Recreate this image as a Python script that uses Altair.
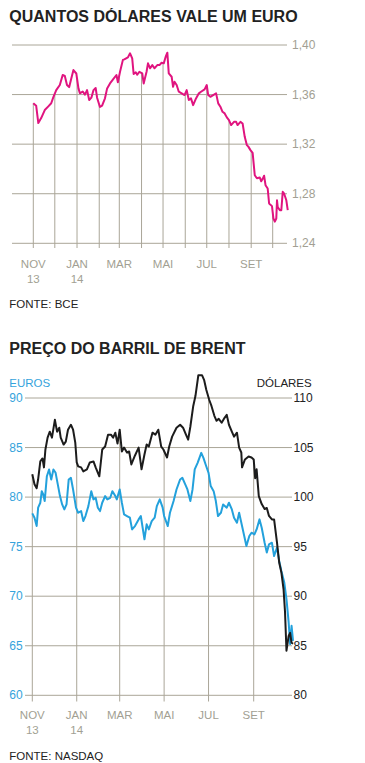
import altair as alt
import numpy as np
import pandas as pd

# ---------------- data: EUR/USD (BCE) ----------------
eur_dates = [
    "2013-11-01", "2013-11-05", "2013-11-08", "2013-11-12", "2013-11-17", "2013-11-22",
    "2013-11-26", "2013-11-29", "2013-12-03", "2013-12-08", "2013-12-12", "2013-12-15",
    "2013-12-18", "2013-12-21", "2013-12-24", "2013-12-27", "2013-12-31", "2014-01-03",
    "2014-01-05", "2014-01-09", "2014-01-12", "2014-01-15", "2014-01-18", "2014-01-21",
    "2014-01-24", "2014-01-27", "2014-01-29", "2014-02-02", "2014-02-05", "2014-02-09",
    "2014-02-12", "2014-02-16", "2014-02-20", "2014-02-25", "2014-02-27", "2014-03-02",
    "2014-03-06", "2014-03-08", "2014-03-13", "2014-03-16", "2014-03-19", "2014-03-21",
    "2014-03-24", "2014-03-26", "2014-03-29", "2014-04-02", "2014-04-04", "2014-04-08",
    "2014-04-10", "2014-04-13", "2014-04-16", "2014-04-19", "2014-04-23", "2014-04-26",
    "2014-04-29", "2014-05-02", "2014-05-05", "2014-05-07", "2014-05-09", "2014-05-13",
    "2014-05-15", "2014-05-17", "2014-05-20", "2014-05-23", "2014-05-27", "2014-05-31",
    "2014-06-03", "2014-06-06", "2014-06-09", "2014-06-12", "2014-06-16", "2014-06-20",
    "2014-06-23", "2014-06-28", "2014-07-01", "2014-07-03", "2014-07-06", "2014-07-10",
    "2014-07-14", "2014-07-17", "2014-07-20", "2014-07-23", "2014-07-26", "2014-07-29",
    "2014-08-01", "2014-08-04", "2014-08-08", "2014-08-11", "2014-08-13", "2014-08-17",
    "2014-08-20", "2014-08-23", "2014-08-26", "2014-08-28", "2014-08-31", "2014-09-03",
    "2014-09-06", "2014-09-09", "2014-09-13", "2014-09-15", "2014-09-17", "2014-09-19",
    "2014-09-21", "2014-09-24", "2014-09-26", "2014-09-30", "2014-10-02", "2014-10-04",
    "2014-10-06", "2014-10-07", "2014-10-08", "2014-10-11", "2014-10-13", "2014-10-15",
    "2014-10-17", "2014-10-20", "2014-10-22",
]
eur_values = [
    1.353, 1.351, 1.337, 1.341, 1.3475, 1.3505,
    1.353, 1.358, 1.3636, 1.3677, 1.3758, 1.375,
    1.3677, 1.366, 1.373, 1.3798, 1.377, 1.365,
    1.361, 1.3625, 1.360, 1.3636, 1.3556, 1.3575,
    1.3636, 1.3653, 1.3575, 1.350, 1.351, 1.357,
    1.365, 1.369, 1.372, 1.3758, 1.370, 1.3784,
    1.388, 1.3884, 1.390, 1.3933, 1.3892, 1.3766,
    1.378, 1.376, 1.3784, 1.3771, 1.369, 1.3784,
    1.3852, 1.3812, 1.3838, 1.3812, 1.3838, 1.3838,
    1.3857, 1.3852, 1.3911, 1.3938, 1.3771, 1.3744,
    1.3663, 1.3704, 1.3677, 1.3623, 1.361, 1.3596,
    1.3636, 1.3556, 1.3569, 1.3515, 1.3569, 1.361,
    1.3623, 1.3642, 1.3677, 1.3596, 1.3582, 1.3596,
    1.361, 1.3529, 1.3502, 1.3461, 1.3448, 1.3416,
    1.3394, 1.3354, 1.338, 1.338, 1.3354, 1.338,
    1.3367, 1.3259, 1.3192, 1.318, 1.3152, 1.313,
    1.2949, 1.2925, 1.2931, 1.290, 1.292, 1.2945,
    1.2869, 1.2842, 1.2721, 1.270, 1.260, 1.2575,
    1.260, 1.2747, 1.2693, 1.2667, 1.2667, 1.2815,
    1.280, 1.2747, 1.2667,
]

# ---------------- data: Brent (NASDAQ) ----------------
usd_dates = [
    "2013-11-01", "2013-11-04", "2013-11-07", "2013-11-09", "2013-11-12", "2013-11-15",
    "2013-11-17", "2013-11-19", "2013-11-22", "2013-11-25", "2013-11-28", "2013-12-02",
    "2013-12-05", "2013-12-08", "2013-12-10", "2013-12-14", "2013-12-17", "2013-12-20",
    "2013-12-24", "2013-12-27", "2013-12-30", "2014-01-01", "2014-01-03", "2014-01-07",
    "2014-01-10", "2014-01-15", "2014-01-19", "2014-01-24", "2014-01-27", "2014-02-01",
    "2014-02-05", "2014-02-09", "2014-02-13", "2014-02-17", "2014-02-20", "2014-02-23",
    "2014-02-26", "2014-03-01", "2014-03-04", "2014-03-07", "2014-03-11", "2014-03-14",
    "2014-03-17", "2014-03-22", "2014-03-27", "2014-03-31", "2014-04-04", "2014-04-07",
    "2014-04-10", "2014-04-15", "2014-04-19", "2014-04-23", "2014-04-27", "2014-04-30",
    "2014-05-05", "2014-05-08", "2014-05-12", "2014-05-18", "2014-05-23", "2014-05-27",
    "2014-05-31", "2014-06-03", "2014-06-06", "2014-06-10", "2014-06-13", "2014-06-17",
    "2014-06-22", "2014-06-25", "2014-06-28", "2014-07-02", "2014-07-05", "2014-07-09",
    "2014-07-12", "2014-07-15", "2014-07-19", "2014-07-23", "2014-07-26", "2014-07-29",
    "2014-08-02", "2014-08-05", "2014-08-09", "2014-08-12", "2014-08-15", "2014-08-16",
    "2014-08-20", "2014-08-25", "2014-08-29", "2014-09-01", "2014-09-03", "2014-09-05",
    "2014-09-08", "2014-09-12", "2014-09-16", "2014-09-19", "2014-09-22", "2014-09-26",
    "2014-09-29", "2014-10-03", "2014-10-06", "2014-10-09", "2014-10-12", "2014-10-14",
    "2014-10-16", "2014-10-19", "2014-10-21", "2014-10-23", "2014-10-25",
]
usd_values = [
    102.3, 101.3, 100.9, 101.8, 103.6, 103.9,
    103.0, 104.8, 106.0, 106.6, 106.0, 107.8,
    106.6, 107.0, 106.0, 105.3, 105.6, 106.8,
    107.3, 106.8, 105.5, 103.5, 103.1, 103.0,
    102.6, 102.8, 103.5, 103.6, 103.0, 102.1,
    104.8, 105.1, 106.3, 106.3, 106.0, 106.5,
    105.4, 106.8, 104.6, 105.0, 104.5, 104.6,
    103.3, 104.2, 105.0, 102.8, 104.3, 105.3,
    105.1, 106.5, 106.3, 106.8, 105.1, 104.8,
    104.0, 105.1, 106.1, 107.0, 107.3, 107.0,
    106.3, 105.8, 107.1, 109.2, 110.2, 112.3,
    112.3, 111.8, 110.8, 109.8, 109.2, 108.2,
    107.7, 107.9, 107.5, 108.0, 108.3, 107.3,
    106.6, 106.1, 106.5, 105.0, 104.5, 103.0,
    103.8, 104.1, 104.0, 103.8, 101.9, 102.8,
    100.1, 99.3, 98.8, 98.9, 98.1, 97.75,
    97.75, 95.4, 93.4, 92.4, 90.7, 88.4,
    84.5, 86.0, 86.3, 85.3, 85.2,
]

brl_eur_dates = [
    "2013-11-01", "2013-11-04", "2013-11-07", "2013-11-09", "2013-11-12", "2013-11-14",
    "2013-11-16", "2013-11-18", "2013-11-21", "2013-11-24", "2013-11-27", "2013-11-30",
    "2013-12-03", "2013-12-06", "2013-12-09", "2013-12-12", "2013-12-15", "2013-12-18",
    "2013-12-21", "2013-12-24", "2013-12-27", "2013-12-31", "2014-01-03", "2014-01-07",
    "2014-01-10", "2014-01-13", "2014-01-17", "2014-01-21", "2014-01-24", "2014-01-27",
    "2014-01-30", "2014-02-02", "2014-02-05", "2014-02-09", "2014-02-12", "2014-02-16",
    "2014-02-19", "2014-02-23", "2014-02-25", "2014-03-01", "2014-03-04", "2014-03-07",
    "2014-03-11", "2014-03-15", "2014-03-18", "2014-03-22", "2014-03-27", "2014-03-30",
    "2014-04-04", "2014-04-07", "2014-04-10", "2014-04-14", "2014-04-18", "2014-04-21",
    "2014-04-25", "2014-04-29", "2014-05-01", "2014-05-06", "2014-05-09", "2014-05-14",
    "2014-05-18", "2014-05-23", "2014-05-26", "2014-05-30", "2014-06-02", "2014-06-06",
    "2014-06-09", "2014-06-12", "2014-06-16", "2014-06-21", "2014-06-24", "2014-06-27",
    "2014-07-01", "2014-07-04", "2014-07-08", "2014-07-11", "2014-07-14", "2014-07-18",
    "2014-07-21", "2014-07-26", "2014-07-29", "2014-08-02", "2014-08-05", "2014-08-09",
    "2014-08-12", "2014-08-16", "2014-08-19", "2014-08-22", "2014-08-26", "2014-08-29",
    "2014-09-02", "2014-09-05", "2014-09-09", "2014-09-12", "2014-09-16", "2014-09-19",
    "2014-09-22", "2014-09-26", "2014-09-29", "2014-10-03", "2014-10-06", "2014-10-09",
    "2014-10-13", "2014-10-16", "2014-10-19", "2014-10-21", "2014-10-23", "2014-10-25",
]
brl_eur_values = [
    78.36, 77.92, 77.08, 78.93, 79.43, 80.6,
    80.27, 79.6, 82.11, 82.79, 81.78, 82.79,
    82.45, 81.28, 80.1, 79.26, 78.76, 79.26,
    81.78, 81.95, 80.77, 78.93, 78.42, 78.59,
    77.58, 78.09, 79.09, 80.6, 79.77, 79.93,
    78.93, 78.59, 79.43, 80.1, 79.77, 79.93,
    80.6, 80.1, 79.77, 80.77, 79.43, 78.26,
    78.09, 77.92, 76.74, 77.08, 77.75, 78.09,
    75.74, 77.25, 76.74, 77.58, 77.92, 79.09,
    79.77, 78.93, 78.09, 77.08, 78.42, 79.6,
    80.77, 81.78, 81.95, 81.28, 80.77, 79.6,
    80.77, 82.79, 83.46, 84.46, 83.96, 83.29,
    82.45, 81.11, 80.6, 79.6, 78.09, 78.42,
    79.26, 78.93, 79.43, 78.76, 77.92, 77.42,
    78.42, 77.08, 76.07, 75.07, 76.07, 76.41,
    76.24, 76.74, 77.75, 76.91, 75.4, 74.4,
    75.23, 75.4, 74.06, 74.9, 73.56, 72.55,
    71.38, 69.7, 67.35, 65.17, 67.01, 65.5,
]

# ---------------- axes / labels ----------------
top_ticks = [1.24, 1.28, 1.32, 1.36, 1.40]
top_tick_labels = ["1,24", "1,28", "1,32", "1,36", "1,40"]
euro_ticks = [60, 65, 70, 75, 80, 85, 90]
euro_tick_labels = ["60", "65", "70", "75", "80", "85", "90"]
dollar_ticks = [80, 85, 90, 95, 100, 105, 110]
dollar_tick_labels = ["80", "85", "90", "95", "100", "105", "110"]
top_grid_months = [
    "2013-11-01", "2013-12-01", "2014-01-01", "2014-02-01", "2014-03-01", "2014-04-01",
    "2014-05-01", "2014-06-01", "2014-07-01", "2014-08-01", "2014-09-01", "2014-10-01",
]
label_months = ["2013-11-01", "2014-01-01", "2014-03-01", "2014-05-01", "2014-07-01", "2014-09-01"]
month_labels = ["NOV", "JAN", "MAR", "MAI", "JUL", "SET"]
year_months = ["2013-11-01", "2014-01-01"]
year_labels = ["13", "14"]

title_top = "QUANTOS DÓLARES VALE UM EURO"
title_bottom = "PREÇO DO BARRIL DE BRENT"
source_top = "FONTE: BCE"
source_bottom = "FONTE: NASDAQ"

# ---------------- styling ----------------
MAG = "#e0147f"
BLUE = "#23a1dc"
BLUE_TXT = "#35a3dc"
BLACK = "#1c1c1c"
GRID = "#aaa698"
LABEL = "#a29f93"
DARK = "#222222"
FONT = "Liberation Sans"


def T(y, m, d):
    return alt.DateTime(year=y, month=m, date=d)


x_top = alt.Scale(type="time", domain=[T(2013, 11, 1), T(2014, 10, 1)], range=[25.3, 264.7], nice=False)
y_top = alt.Scale(type="linear", domain=[1.24, 1.40], range=[235.3, 37.0], nice=False, zero=False)
x_bot = alt.Scale(type="time", domain=[T(2013, 11, 1), T(2014, 9, 1)], range=[24.3, 245.7], nice=False)
y_eur = alt.Scale(type="linear", domain=[60, 90], range=[687.3, 390.0], nice=False, zero=False)
y_usd = alt.Scale(type="linear", domain=[80, 110], range=[687.3, 390.0], nice=False, zero=False)

eur_df = pd.DataFrame({"date": pd.to_datetime(eur_dates), "v": eur_values})
usd_df = pd.DataFrame({"date": pd.to_datetime(usd_dates), "v": usd_values})
beur_df = pd.DataFrame({"date": pd.to_datetime(brl_eur_dates), "v": brl_eur_values})


def value_at(df, dates):
    d = pd.to_datetime(dates)
    return np.interp(d.asi8, df["date"].values.astype("int64"), df["v"].values)


top_vr_df = pd.DataFrame({"date": pd.to_datetime(top_grid_months), "v": value_at(eur_df, top_grid_months)})
bot_vr_df = pd.DataFrame({"date": pd.to_datetime(label_months), "v": value_at(usd_df, label_months)})


def text_at(s, x, y, size, color, weight="normal", align="left"):
    return alt.Chart(pd.DataFrame({"t": [s]})).mark_text(
        align=align, baseline="alphabetic", font=FONT, fontSize=size, fontWeight=weight, color=color
    ).encode(x=alt.value(x), y=alt.value(y), text="t:N")


layers = []

# ---- top panel ----
layers.append(text_at(title_top, 1.3, 14, 16, DARK, "bold"))
layers.append(
    alt.Chart(pd.DataFrame({"v": top_ticks})).mark_rule(color=GRID, strokeWidth=1).encode(
        y=alt.Y("v:Q", scale=y_top, axis=None), x=alt.value(4), x2=alt.value(279)
    )
)
layers.append(
    alt.Chart(top_vr_df).mark_rule(color=GRID, strokeWidth=1).encode(
        x=alt.X("date:T", scale=x_top, axis=None),
        y=alt.Y("v:Q", scale=y_top, axis=None),
        y2=alt.value(240),
    )
)
layers.append(
    alt.Chart(eur_df).mark_line(color=MAG, strokeWidth=2, strokeJoin="round").encode(
        x=alt.X("date:T", scale=x_top, axis=None), y=alt.Y("v:Q", scale=y_top, axis=None)
    )
)
layers.append(
    alt.Chart(pd.DataFrame({"v": top_ticks, "lab": top_tick_labels})).mark_text(
        align="left", baseline="middle", font=FONT, fontSize=12, color=LABEL
    ).encode(y=alt.Y("v:Q", scale=y_top, axis=None), x=alt.value(284), text="lab:N")
)
layers.append(
    alt.Chart(pd.DataFrame({"date": pd.to_datetime(label_months), "lab": month_labels})).mark_text(
        align="center", baseline="alphabetic", font=FONT, fontSize=11.5, color=LABEL
    ).encode(x=alt.X("date:T", scale=x_top, axis=None), y=alt.value(260.3), text="lab:N")
)
layers.append(
    alt.Chart(pd.DataFrame({"date": pd.to_datetime(year_months), "lab": year_labels})).mark_text(
        align="center", baseline="alphabetic", font=FONT, fontSize=11.5, color=LABEL
    ).encode(x=alt.X("date:T", scale=x_top, axis=None), y=alt.value(275.3), text="lab:N")
)
layers.append(text_at(source_top, 1.3, 300.3, 11.5, DARK))

# ---- bottom panel ----
layers.append(text_at(title_bottom, 1.3, 345.5, 16, DARK, "bold"))
layers.append(text_at("EUROS", 1.3, 379.3, 11.5, BLUE_TXT))
layers.append(text_at("DÓLARES", 303.7, 379.3, 11.5, DARK, align="right"))
layers.append(
    alt.Chart(pd.DataFrame({"v": euro_ticks})).mark_rule(color=GRID, strokeWidth=1).encode(
        y=alt.Y("v:Q", scale=y_eur, axis=None), x=alt.value(17), x2=alt.value(284)
    )
)
layers.append(
    alt.Chart(bot_vr_df).mark_rule(color=GRID, strokeWidth=1).encode(
        x=alt.X("date:T", scale=x_bot, axis=None),
        y=alt.Y("v:Q", scale=y_usd, axis=None),
        y2=alt.value(693.5),
    )
)
layers.append(
    alt.Chart(beur_df).mark_line(color=BLUE, strokeWidth=2, strokeJoin="round").encode(
        x=alt.X("date:T", scale=x_bot, axis=None), y=alt.Y("v:Q", scale=y_eur, axis=None)
    )
)
layers.append(
    alt.Chart(usd_df).mark_line(color=BLACK, strokeWidth=2, strokeJoin="round").encode(
        x=alt.X("date:T", scale=x_bot, axis=None), y=alt.Y("v:Q", scale=y_usd, axis=None)
    )
)
layers.append(
    alt.Chart(pd.DataFrame({"v": euro_ticks, "lab": euro_tick_labels})).mark_text(
        align="right", baseline="middle", font=FONT, fontSize=12, color=BLUE_TXT
    ).encode(y=alt.Y("v:Q", scale=y_eur, axis=None), x=alt.value(14.7), text="lab:N")
)
layers.append(
    alt.Chart(pd.DataFrame({"v": dollar_ticks, "lab": dollar_tick_labels})).mark_text(
        align="left", baseline="middle", font=FONT, fontSize=12, color=DARK
    ).encode(y=alt.Y("v:Q", scale=y_usd, axis=None), x=alt.value(285.5), text="lab:N")
)
layers.append(
    alt.Chart(pd.DataFrame({"date": pd.to_datetime(label_months), "lab": month_labels})).mark_text(
        align="center", baseline="alphabetic", font=FONT, fontSize=11.5, color=LABEL
    ).encode(x=alt.X("date:T", scale=x_bot, axis=None), y=alt.value(711.3), text="lab:N")
)
layers.append(
    alt.Chart(pd.DataFrame({"date": pd.to_datetime(year_months), "lab": year_labels})).mark_text(
        align="center", baseline="alphabetic", font=FONT, fontSize=11.5, color=LABEL
    ).encode(x=alt.X("date:T", scale=x_bot, axis=None), y=alt.value(726), text="lab:N")
)
layers.append(text_at(source_bottom, 1.3, 752, 11.5, DARK))

chart = (
    alt.layer(*layers)
    .resolve_scale(x="independent", y="independent")
    .properties(width=349, height=754, autosize=alt.AutoSizeParams(type="none"), padding=0)
    .configure_view(stroke=None)
)

chart.save("out.html", embed_options={"renderer": "svg", "actions": False})
